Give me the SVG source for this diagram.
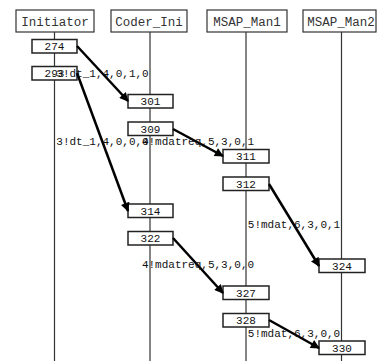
<svg xmlns="http://www.w3.org/2000/svg" width="377" height="361" viewBox="0 0 377 361">
<style>
.hdr{fill:#fff;stroke:#333;stroke-width:1.2}
.life{stroke:#333;stroke-width:1.2}
.nd{fill:#fff;stroke:#222;stroke-width:1.5}
.ht{font-family:"Liberation Mono",monospace;font-size:12.5px;fill:#333;text-anchor:middle}
.nt{font-family:"Liberation Mono",monospace;font-size:11px;fill:#111;text-anchor:middle}
.lbl{font-family:"Liberation Mono",monospace;font-size:11px;fill:#111;text-anchor:middle}
.msg{stroke:#000;stroke-width:2.5;fill:none;marker-end:url(#ah)}
</style>
<defs>
<marker id="ah" viewBox="0 0 10 10" refX="9" refY="5" markerWidth="4.4" markerHeight="3.6" orient="auto" markerUnits="strokeWidth">
<path d="M0,0 L10,5 L0,10 z" fill="#000"/>
</marker>
</defs>
<rect width="377" height="361" fill="#fff"/>
<g id="lifelines">
<line class="life" x1="54.5" y1="32" x2="54.5" y2="361"/>
<line class="life" x1="150" y1="32" x2="150" y2="361"/>
<line class="life" x1="246" y1="32" x2="246" y2="361"/>
<line class="life" x1="341.5" y1="32" x2="341.5" y2="361"/>
</g>
<g id="Initiator"><rect class="hdr" x="16" y="10" width="78" height="22"/><text class="ht" x="55" y="25.5">Initiator</text></g>
<g id="Coder_Ini"><rect class="hdr" x="111" y="10" width="76" height="22"/><text class="ht" x="149" y="25.5">Coder_Ini</text></g>
<g id="MSAP_Man1"><rect class="hdr" x="207" y="10" width="80" height="22"/><text class="ht" x="247" y="25.5">MSAP_Man1</text></g>
<g id="MSAP_Man2"><rect class="hdr" x="303" y="10" width="73" height="22"/><text class="ht" x="341" y="25.5">MSAP_Man2</text></g>
<g id="n274"><rect class="nd" x="32" y="39.5" width="45" height="13.5"/><text class="nt" x="54.5" y="50">274</text></g>
<g id="n293"><rect class="nd" x="32" y="66.5" width="45" height="13.5"/><text class="nt" x="54.5" y="77">293</text></g>
<g id="n301"><rect class="nd" x="128" y="94.5" width="45" height="13.5"/><text class="nt" x="150.5" y="105">301</text></g>
<g id="n309"><rect class="nd" x="128" y="122" width="45" height="13.5"/><text class="nt" x="150.5" y="132.5">309</text></g>
<g id="n311"><rect class="nd" x="223" y="149.5" width="46" height="13.5"/><text class="nt" x="246" y="160">311</text></g>
<g id="n312"><rect class="nd" x="223" y="177" width="46" height="13.5"/><text class="nt" x="246" y="187.5">312</text></g>
<g id="n314"><rect class="nd" x="128" y="204" width="45" height="13.5"/><text class="nt" x="150.5" y="214.5">314</text></g>
<g id="n322"><rect class="nd" x="128" y="231.5" width="45" height="13.5"/><text class="nt" x="150.5" y="242">322</text></g>
<g id="n324"><rect class="nd" x="319" y="259" width="46" height="13.5"/><text class="nt" x="342" y="269.5">324</text></g>
<g id="n327"><rect class="nd" x="223" y="286" width="46" height="13.5"/><text class="nt" x="246" y="296.5">327</text></g>
<g id="n328"><rect class="nd" x="223" y="313.5" width="46" height="13.5"/><text class="nt" x="246" y="324">328</text></g>
<g id="n330"><rect class="nd" x="319" y="341" width="46" height="13.5"/><text class="nt" x="342" y="351.5">330</text></g>
<g id="connectors">
<line class="msg" x1="77" y1="46" x2="128" y2="101"/>
<line class="msg" x1="77" y1="73" x2="128" y2="211"/>
<line class="msg" x1="173" y1="129" x2="223" y2="156"/>
<line class="msg" x1="269" y1="184" x2="319" y2="266"/>
<line class="msg" x1="173" y1="238" x2="223" y2="293"/>
<line class="msg" x1="269" y1="320" x2="319" y2="348"/>
<text class="lbl" x="102.5" y="76.5">3!dt_1,4,0,1,0</text>
<text class="lbl" x="102.5" y="145">3!dt_1,4,0,0,0</text>
<text class="lbl" x="198" y="145">4!mdatreq,5,3,0,1</text>
<text class="lbl" x="294" y="227.5">5!mdat,6,3,0,1</text>
<text class="lbl" x="198" y="268">4!mdatreq,5,3,0,0</text>
<text class="lbl" x="294" y="336.5">5!mdat,6,3,0,0</text>
</g>
</svg>
